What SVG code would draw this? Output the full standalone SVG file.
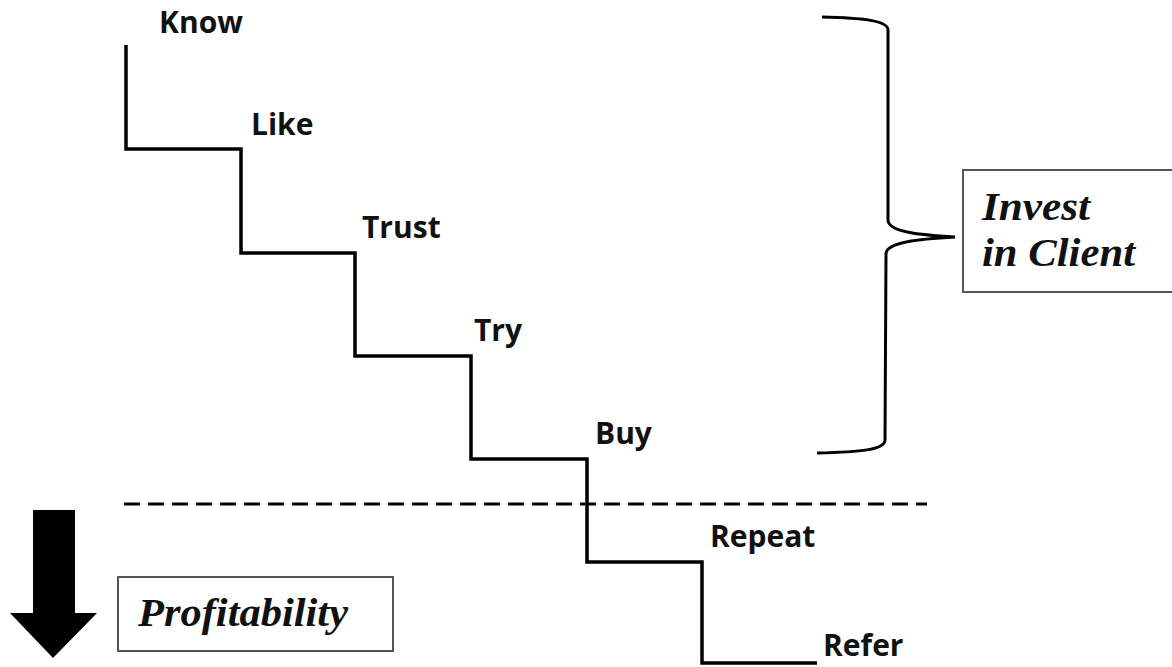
<svg xmlns="http://www.w3.org/2000/svg" width="1172" height="667" viewBox="0 0 1172 667">
<style>
.lbl{font-family:"Open Sans","Liberation Sans",sans-serif;font-weight:bold;font-size:30px;fill:#111}
.box{fill:#fff;stroke:#555;stroke-width:2}
.big{font-family:"Liberation Serif","Times New Roman",serif;font-weight:bold;font-style:italic;font-size:39px;fill:#111}
.ln{fill:none;stroke:#000;stroke-width:3.5}
</style>
<rect width="1172" height="667" fill="#fff"/>
<g id="connectors">
<path class="ln" d="M126 45 V149 H241 V253 H355 V356 H471 V459 H587 V562 H702 V663 H817"/>
<path class="ln" d="M124 504 H927" stroke-dasharray="16 8" style="stroke-width:3"/>
<path class="ln" d="M822 17 C860 18 888 20 888 30 L888 220 C888 232 920 235 955 237 C920 239 886 242 886 254 L885 440 C885 450 860 452 817 453" style="stroke-width:3"/>
</g>
<g id="know"><text class="lbl" x="159" y="33">Know</text></g>
<g id="like"><text class="lbl" x="251" y="135">Like</text></g>
<g id="trust"><text class="lbl" x="362" y="238">Trust</text></g>
<g id="try"><text class="lbl" x="474" y="341">Try</text></g>
<g id="buy"><text class="lbl" x="595" y="444">Buy</text></g>
<g id="repeat"><text class="lbl" x="710" y="547">Repeat</text></g>
<g id="refer"><text class="lbl" x="823" y="656">Refer</text></g>
<g id="invest">
<rect class="box" x="963" y="170" width="215" height="122"/>
<text class="big" x="982" y="220" textLength="108" lengthAdjust="spacingAndGlyphs">Invest</text>
<text class="big" x="982" y="266" textLength="153" lengthAdjust="spacingAndGlyphs">in Client</text>
</g>
<g id="profit">
<rect class="box" x="118" y="577" width="275" height="74"/>
<text class="big" x="138" y="626" textLength="210" lengthAdjust="spacingAndGlyphs">Profitability</text>
</g>
<g id="arrow">
<path d="M33 510 H75 V613 H97 L53 658 L10 613 H33 Z" fill="#000"/>
</g>
</svg>
